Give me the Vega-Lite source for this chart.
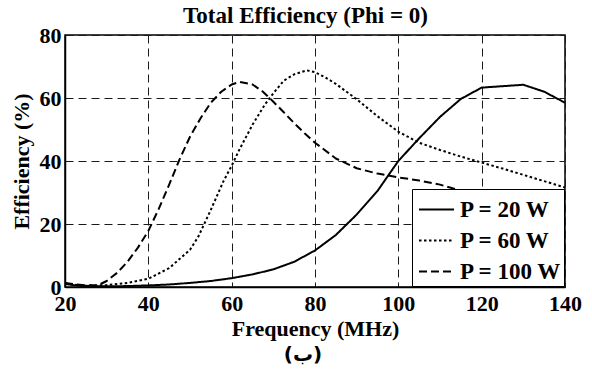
{
  "$schema": "https://vega.github.io/schema/vega-lite/v6.json",
  "background": "white",
  "padding": {"left": 10, "top": 4, "right": 5, "bottom": 4},
  "width": 500,
  "height": 252,
  "title": {"text": "(ب)", "orient": "bottom", "font": "DejaVu Sans", "fontSize": 20, "fontWeight": "bold", "color": "black", "anchor": "middle", "frame": "group", "offset": 6, "dx": -12},
  "config": {
    "font": "Liberation Serif",
    "view": {"stroke": "black", "strokeWidth": 1.5},
    "axis": {
      "labelFont": "Liberation Serif", "labelFontSize": 22, "labelFontWeight": "bold", "labelColor": "black",
      "titleFont": "Liberation Serif", "titleFontSize": 22, "titleFontWeight": "bold", "titleColor": "black",
      "domainColor": "black", "domainWidth": 1.5, "ticks": false, "labelFlush": false,
      "gridColor": "#1a1a1a", "gridDash": [8, 5], "gridWidth": 1, "gridOpacity": 1
    }
  },
  "data": {"values": [
    {"f": 20, "e": 1.0, "P": "P = 20 W"}, {"f": 22, "e": 0.6, "P": "P = 20 W"}, {"f": 25, "e": 0.3, "P": "P = 20 W"},
    {"f": 30, "e": 0.2, "P": "P = 20 W"}, {"f": 35, "e": 0.3, "P": "P = 20 W"}, {"f": 40, "e": 0.5, "P": "P = 20 W"},
    {"f": 45, "e": 0.8, "P": "P = 20 W"}, {"f": 50, "e": 1.3, "P": "P = 20 W"}, {"f": 55, "e": 1.9, "P": "P = 20 W"},
    {"f": 60, "e": 2.8, "P": "P = 20 W"}, {"f": 65, "e": 4.0, "P": "P = 20 W"}, {"f": 70, "e": 5.6, "P": "P = 20 W"},
    {"f": 75, "e": 8.0, "P": "P = 20 W"}, {"f": 80, "e": 11.6, "P": "P = 20 W"}, {"f": 85, "e": 16.5, "P": "P = 20 W"},
    {"f": 90, "e": 23.0, "P": "P = 20 W"}, {"f": 95, "e": 30.5, "P": "P = 20 W"}, {"f": 100, "e": 40.0, "P": "P = 20 W"},
    {"f": 105, "e": 47.2, "P": "P = 20 W"}, {"f": 110, "e": 54.0, "P": "P = 20 W"}, {"f": 115, "e": 59.7, "P": "P = 20 W"},
    {"f": 120, "e": 63.3, "P": "P = 20 W"}, {"f": 130, "e": 64.2, "P": "P = 20 W"}, {"f": 135, "e": 62.0, "P": "P = 20 W"},
    {"f": 140, "e": 58.5, "P": "P = 20 W"},

    {"f": 20, "e": 1.2, "P": "P = 60 W"}, {"f": 22, "e": 0.8, "P": "P = 60 W"}, {"f": 25, "e": 0.4, "P": "P = 60 W"},
    {"f": 30, "e": 0.6, "P": "P = 60 W"}, {"f": 35, "e": 1.3, "P": "P = 60 W"}, {"f": 40, "e": 2.6, "P": "P = 60 W"},
    {"f": 45, "e": 6.0, "P": "P = 60 W"}, {"f": 50, "e": 11.8, "P": "P = 60 W"}, {"f": 52, "e": 16.0, "P": "P = 60 W"},
    {"f": 55, "e": 24.5, "P": "P = 60 W"}, {"f": 58, "e": 33.5, "P": "P = 60 W"}, {"f": 60, "e": 38.5, "P": "P = 60 W"},
    {"f": 62, "e": 44.0, "P": "P = 60 W"}, {"f": 65, "e": 51.5, "P": "P = 60 W"}, {"f": 68, "e": 58.0, "P": "P = 60 W"},
    {"f": 70, "e": 61.5, "P": "P = 60 W"}, {"f": 72.5, "e": 65.5, "P": "P = 60 W"}, {"f": 75, "e": 67.5, "P": "P = 60 W"},
    {"f": 78, "e": 68.8, "P": "P = 60 W"}, {"f": 80, "e": 68.2, "P": "P = 60 W"}, {"f": 82.5, "e": 66.5, "P": "P = 60 W"},
    {"f": 85, "e": 64.5, "P": "P = 60 W"}, {"f": 90, "e": 59.6, "P": "P = 60 W"}, {"f": 95, "e": 54.2, "P": "P = 60 W"},
    {"f": 100, "e": 49.3, "P": "P = 60 W"}, {"f": 105, "e": 45.8, "P": "P = 60 W"}, {"f": 110, "e": 43.5, "P": "P = 60 W"},
    {"f": 115, "e": 41.4, "P": "P = 60 W"}, {"f": 120, "e": 39.5, "P": "P = 60 W"}, {"f": 125, "e": 37.6, "P": "P = 60 W"},
    {"f": 130, "e": 35.6, "P": "P = 60 W"}, {"f": 135, "e": 33.6, "P": "P = 60 W"}, {"f": 140, "e": 31.6, "P": "P = 60 W"},

    {"f": 20, "e": 1.3, "P": "P = 100 W"}, {"f": 22, "e": 0.9, "P": "P = 100 W"}, {"f": 25, "e": 0.5, "P": "P = 100 W"},
    {"f": 28, "e": 0.6, "P": "P = 100 W"}, {"f": 30, "e": 1.9, "P": "P = 100 W"}, {"f": 32.5, "e": 4.5, "P": "P = 100 W"},
    {"f": 35, "e": 8.0, "P": "P = 100 W"}, {"f": 37.5, "e": 12.5, "P": "P = 100 W"}, {"f": 40, "e": 17.8, "P": "P = 100 W"},
    {"f": 42.5, "e": 24.8, "P": "P = 100 W"}, {"f": 45, "e": 32.5, "P": "P = 100 W"}, {"f": 47.5, "e": 40.5, "P": "P = 100 W"},
    {"f": 50, "e": 47.7, "P": "P = 100 W"}, {"f": 52.5, "e": 53.5, "P": "P = 100 W"}, {"f": 55, "e": 58.5, "P": "P = 100 W"},
    {"f": 57.5, "e": 62.0, "P": "P = 100 W"}, {"f": 60, "e": 64.3, "P": "P = 100 W"}, {"f": 62, "e": 65.1, "P": "P = 100 W"},
    {"f": 65, "e": 64.3, "P": "P = 100 W"}, {"f": 67.5, "e": 62.0, "P": "P = 100 W"}, {"f": 70, "e": 58.8, "P": "P = 100 W"},
    {"f": 72.5, "e": 55.5, "P": "P = 100 W"}, {"f": 75, "e": 52.0, "P": "P = 100 W"}, {"f": 77.5, "e": 48.8, "P": "P = 100 W"},
    {"f": 80, "e": 45.8, "P": "P = 100 W"}, {"f": 85, "e": 40.8, "P": "P = 100 W"}, {"f": 90, "e": 37.7, "P": "P = 100 W"},
    {"f": 95, "e": 36.0, "P": "P = 100 W"}, {"f": 100, "e": 34.8, "P": "P = 100 W"}, {"f": 105, "e": 33.8, "P": "P = 100 W"},
    {"f": 110, "e": 32.5, "P": "P = 100 W"}, {"f": 115, "e": 30.6, "P": "P = 100 W"}, {"f": 120, "e": 29.7, "P": "P = 100 W"},
    {"f": 125, "e": 29.2, "P": "P = 100 W"}, {"f": 130, "e": 28.8, "P": "P = 100 W"}, {"f": 135, "e": 28.5, "P": "P = 100 W"},
    {"f": 140, "e": 28.2, "P": "P = 100 W"}
  ]},
  "layer": [
    {
      "mark": {"type": "line", "strokeWidth": 2, "color": "black", "strokeCap": "butt", "strokeJoin": "round"},
      "encoding": {
        "x": {"field": "f", "type": "quantitative", "scale": {"domain": [20, 140], "nice": false, "zero": false},
              "axis": {"values": [20, 40, 60, 80, 100, 120, 140], "title": "Frequency (MHz)", "labelPadding": 6, "titlePadding": 4, "labelFlush": false}},
        "y": {"field": "e", "type": "quantitative", "scale": {"domain": [0, 80], "nice": false},
              "axis": {"values": [0, 20, 40, 60, 80], "title": "Efficiency (%)", "labelPadding": 4, "titlePadding": 6}},
        "strokeDash": {"field": "P", "type": "nominal", "sort": ["P = 20 W", "P = 60 W", "P = 100 W"],
                       "scale": {"domain": ["P = 20 W", "P = 60 W", "P = 100 W"], "range": [[1, 0], [2.5, 2.5], [8, 4]]},
                       "legend": {
                         "orient": "bottom-right", "offset": 1, "title": null,
                         "symbolType": "stroke", "symbolSize": 1225, "symbolStrokeWidth": 2, "symbolStrokeColor": "black",
                         "labelFont": "Liberation Serif", "labelFontSize": 23, "labelFontWeight": "bold", "labelColor": "black",
                         "strokeColor": "black", "fillColor": "white", "padding": 2, "rowPadding": -12, "labelOffset": 5, "symbolOffset": 4
                       }}
      }
    },
    {
      "mark": {"type": "line", "opacity": 0},
      "encoding": {
        "x": {"field": "f", "type": "quantitative",
              "axis": {"orient": "top", "title": "Total Efficiency (Phi = 0)", "titleFontSize": 23, "labels": false, "grid": false, "domain": false, "ticks": false, "titlePadding": 8, "titleX": 240}},
        "y": {"field": "e", "type": "quantitative"},
        "detail": {"field": "P", "type": "nominal"}
      }
    }
  ],
  "resolve": {"axis": {"x": "independent"}}
}
